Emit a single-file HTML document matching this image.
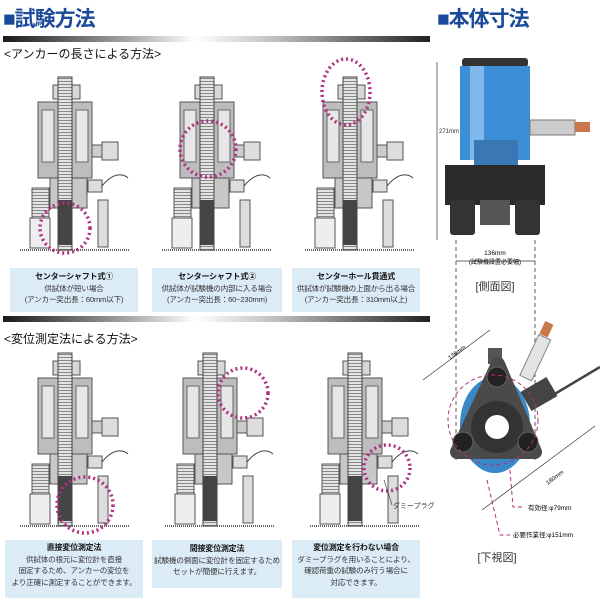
<!DOCTYPE html><html><head><meta charset="utf-8"><style>
body{margin:0;width:600px;height:600px;background:#fff;overflow:hidden;position:relative;font-family:"Liberation Sans","Noto Sans CJK JP",sans-serif}
.t{position:absolute;color:#1b4a9b;font-weight:bold;font-size:21px;letter-spacing:-1px}
.bar{position:absolute;height:6px;background:linear-gradient(90deg,#1a1a1a,#aaa 30%,#fff 45%,#bbb 65%,#222)}
.sub{position:absolute;font-size:12px;color:#111}
.box{position:absolute;background:#dcecf7;text-align:center;font-size:7.6px;line-height:11.5px;color:#333;white-space:nowrap;letter-spacing:-0.2px}
.box b{color:#111;font-size:8px}
</style></head><body>
<div class="t" style="left:3px;top:3px">■試験方法</div>
<div class="t" style="left:437px;top:3px">■本体寸法</div>
<div class="bar" style="left:3px;top:36px;width:427px"></div>
<div class="sub" style="left:4px;top:45px">&lt;アンカーの長さによる方法&gt;</div>
<div class="bar" style="left:3px;top:316px;width:427px"></div>
<div class="sub" style="left:4px;top:330px">&lt;変位測定法による方法&gt;</div>
<svg width="600" height="600" style="position:absolute;left:0;top:0">
<defs>
<pattern id="th" width="4" height="3" patternUnits="userSpaceOnUse"><rect width="4" height="3" fill="#e4e4e4"/><rect width="4" height="1" fill="#888"/></pattern>
<g id="m">
<line x1="20" y1="190" x2="130" y2="190" stroke="#333" stroke-width="1.5" stroke-dasharray="1 1"/>
<rect x="38" y="42" width="54" height="76" fill="#bdbdbd" stroke="#555"/>
<rect x="42" y="50" width="12" height="52" fill="#e6e6e6" stroke="#666"/>
<rect x="76" y="50" width="12" height="52" fill="#e6e6e6" stroke="#666"/>
<rect x="50" y="118" width="37" height="30" fill="#c8c8c8" stroke="#555"/>
<rect x="53" y="25" width="27" height="14" fill="#d8d8d8" stroke="#555"/>
<rect x="58" y="17" width="14" height="173" fill="url(#th)" stroke="#444"/>
<rect x="58" y="140" width="14" height="45" fill="#444"/>
<rect x="92" y="85" width="10" height="12" fill="#ccc" stroke="#555"/>
<rect x="102" y="82" width="16" height="18" fill="#ddd" stroke="#555"/>
<rect x="32" y="128" width="17" height="30" fill="url(#th)" stroke="#555"/>
<rect x="30" y="158" width="20" height="30" fill="#eee" stroke="#555"/>
<rect x="98" y="140" width="10" height="47" fill="#ddd" stroke="#555"/>
<rect x="88" y="120" width="14" height="12" fill="#ddd" stroke="#555"/>
<path d="M102 126 C115 110,125 115,128 118" stroke="#444" fill="none"/>
</g>
</defs>
<use href="#m" x="0" y="60"/><use href="#m" x="142" y="60"/><use href="#m" x="285" y="60"/>
<use href="#m" x="0" y="336"/><use href="#m" x="145" y="336"/><use href="#m" x="290" y="336"/>
<g fill="none" stroke="#b0307f" stroke-width="3.5" stroke-dasharray="2 3">
<circle cx="65" cy="228" r="25"/><circle cx="208" cy="149" r="28"/><ellipse cx="346" cy="92" rx="24" ry="33"/>
<circle cx="85" cy="505" r="28"/><circle cx="243" cy="393" r="25"/><circle cx="387" cy="468" r="23"/>
</g>
<line x1="384" y1="480" x2="392" y2="505" stroke="#333" stroke-width=".6"/>
<text x="393" y="508" font-size="7" fill="#333">ダミープラグ</text>
<!-- right machine -->
<line x1="437" y1="62" x2="437" y2="240" stroke="#333" stroke-width=".7"/>
<text x="439" y="133" font-size="6" fill="#333">271mm</text>
<rect x="462" y="58" width="66" height="9" rx="3" fill="#333"/>
<rect x="460" y="66" width="70" height="94" fill="#3c8ed6"/>
<rect x="470" y="66" width="14" height="94" fill="#7fb8ea"/>
<rect x="474" y="140" width="44" height="25" fill="#3a77b5"/>
<rect x="530" y="120" width="45" height="15" fill="#ccc" stroke="#777"/>
<rect x="575" y="122" width="15" height="10" fill="#c8784a"/>
<rect x="445" y="165" width="100" height="40" fill="#2a2a2a"/>
<rect x="450" y="200" width="25" height="35" rx="3" fill="#333"/>
<rect x="515" y="200" width="25" height="35" rx="3" fill="#333"/>
<rect x="480" y="200" width="30" height="25" fill="#555"/>
<line x1="456" y1="240" x2="456" y2="460" stroke="#333" stroke-dasharray="4 3" stroke-width=".8"/>
<line x1="535" y1="240" x2="535" y2="460" stroke="#333" stroke-dasharray="4 3" stroke-width=".8"/>
<line x1="456" y1="261" x2="535" y2="261" stroke="#333" stroke-width=".7"/>
<text x="495" y="255" font-size="6.5" text-anchor="middle">136mm</text>
<text x="495" y="264" font-size="6" text-anchor="middle">(試験機設置必要幅)</text>
<text x="495" y="290" font-size="11" text-anchor="middle" fill="#333">[側面図]</text>
<!-- top view -->
<line x1="423" y1="380" x2="490" y2="330" stroke="#333" stroke-width=".7"/>
<text x="450" y="360" font-size="6" transform="rotate(-37 450 360)">136mm</text>
<line x1="482" y1="510" x2="595" y2="426" stroke="#333" stroke-width=".7"/>
<text x="548" y="485" font-size="6" transform="rotate(-37 548 485)">180mm</text>
<line x1="553" y1="395" x2="600" y2="367" stroke="#444" stroke-width="2.5"/>
<rect x="529" y="335" width="13" height="45" fill="#e4e4e4" stroke="#888" transform="rotate(25 535 357)"/>
<rect x="542" y="322" width="9" height="14" fill="#c8784a" transform="rotate(25 546 329)"/>
<ellipse cx="495" cy="425" rx="35" ry="48" fill="#3a88c8"/>
<rect x="524" y="383" width="30" height="22" fill="#444" transform="rotate(-30 539 394)"/>
<rect x="488" y="348" width="14" height="16" fill="#555"/>
<polygon points="498,364 535,452 457,452" fill="#4a4a4a" stroke="#4a4a4a" stroke-linejoin="round" stroke-width="14"/>
<circle cx="497" cy="427" r="26" fill="#333"/>
<circle cx="497" cy="427" r="12" fill="#fff"/>
<circle cx="497" cy="377" r="10" fill="#222" stroke="#666"/><circle cx="463" cy="442" r="10" fill="#222" stroke="#666"/><circle cx="528" cy="442" r="10" fill="#222" stroke="#666"/>
<circle cx="493" cy="420" r="45" fill="none" stroke="#b0307f" stroke-dasharray="4 3"/>
<path d="M510 470 L513 507 L525 507" fill="none" stroke="#b0307f" stroke-dasharray="4 3"/>
<path d="M487 480 L500 535 L510 535" fill="none" stroke="#b0307f" stroke-dasharray="4 3"/>
<text x="528" y="510" font-size="6.5">有効径:φ79mm</text>
<text x="513" y="537" font-size="6.5">必要作業径:φ151mm</text>
<text x="497" y="561" font-size="11" text-anchor="middle" fill="#333">[下視図]</text>
</svg>
<div class="box" style="left:10px;top:268px;width:128px;height:41px;padding-top:3px"><b>センターシャフト式①</b><br>供試体が短い場合<br>(アンカー突出長：60mm以下)</div>
<div class="box" style="left:152px;top:268px;width:130px;height:41px;padding-top:3px"><b>センターシャフト式②</b><br>供試体が試験機の内部に入る場合<br>(アンカー突出長：60~230mm)</div>
<div class="box" style="left:292px;top:268px;width:128px;height:41px;padding-top:3px"><b>センターホール貫通式</b><br>供試体が試験機の上面から出る場合<br>(アンカー突出長：310mm以上)</div>
<div class="box" style="left:5px;top:540px;width:138px;height:56px;padding-top:2px"><b>直接変位測定法</b><br>供試体の根元に変位計を直接<br>固定するため、アンカーの変位を<br>より正確に測定することができます。</div>
<div class="box" style="left:152px;top:540px;width:130px;height:45px;padding-top:3px"><b>間接変位測定法</b><br>試験機の側面に変位計を固定するため<br>セットが簡便に行えます。</div>
<div class="box" style="left:292px;top:540px;width:128px;height:56px;padding-top:2px"><b>変位測定を行わない場合</b><br>ダミープラグを用いることにより、<br>確認荷重の試験のみ行う場合に<br>対応できます。</div>
</body></html>
